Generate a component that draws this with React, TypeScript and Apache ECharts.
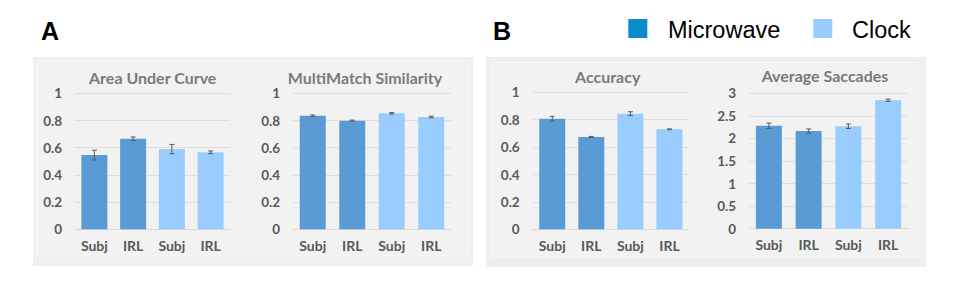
import React, { useEffect, useRef } from "react";
import * as echarts from "echarts";

const categories = ["Subj", "IRL", "Subj", "IRL"];
const groupNames = ["Microwave", "Clock"];
const groupOfBar = [0, 0, 1, 1];

const aucValues = [0.546, 0.666, 0.59, 0.566];
const aucErrors = [0.036, 0.013, 0.034, 0.01];
const mmValues = [0.835, 0.799, 0.853, 0.826];
const mmErrors = [0.006, 0.004, 0.006, 0.006];
const accValues = [0.807, 0.674, 0.844, 0.73];
const accErrors = [0.017, 0.004, 0.014, 0.003];
const sacValues = [2.28, 2.165, 2.27, 2.845];
const sacErrors = [0.06, 0.045, 0.05, 0.025];

const chartTitles = ["Area Under Curve", "MultiMatch Similarity", "Accuracy", "Average Saccades"];
const yMax = [1, 1, 1, 3];
const yInterval = [0.2, 0.2, 0.2, 0.5];

const COLORS = ["#5b9bd5", "#99ccff"];
const LEGEND_COLORS = ["#0a8bcc", "#99ccff"];

const grids = [
  { left: 75, top: 93.3, width: 155, height: 136 },
  { left: 293, top: 93.3, width: 158, height: 136 },
  { left: 532.7, top: 92.3, width: 156.3, height: 137 },
  { left: 749, top: 93.3, width: 159, height: 135.4 },
];
const titlePos = [
  [152.7, 77],
  [365, 77],
  [607.7, 76],
  [825, 75.5],
];

export default function App() {
  const ref = useRef<HTMLDivElement>(null);
  useEffect(() => {
    document.body.style.margin = "0";
    if (!ref.current) return;
    const chart = echarts.init(ref.current, null, { renderer: "svg" });
    const allValues = [aucValues, mmValues, accValues, sacValues];
    const allErrors = [aucErrors, mmErrors, accErrors, sacErrors];
    const font = "Lato, 'Open Sans', sans-serif";

    const xAxis: any[] = [];
    const yAxis: any[] = [];
    const series: any[] = [];
    grids.forEach((g, k) => {
      xAxis.push({
        type: "category",
        gridIndex: k,
        data: categories,
        axisLine: { lineStyle: { color: "#d9d9d9", width: 1 } },
        axisTick: { show: false },
        axisLabel: { color: "#595959", fontWeight: "bold", fontSize: 14, fontFamily: font, margin: 9 },
      });
      yAxis.push({
        type: "value",
        gridIndex: k,
        min: 0,
        max: yMax[k],
        interval: yInterval[k],
        axisLine: { show: false },
        axisTick: { show: false },
        splitLine: { lineStyle: { color: "#dedede", width: 1 } },
        axisLabel: { color: "#595959", fontWeight: "bold", fontSize: 13.5, fontFamily: font, margin: 13 },
      });
      groupNames.forEach((name, gi) => {
        series.push({
          type: "bar",
          name,
          xAxisIndex: k,
          yAxisIndex: k,
          barWidth: 26,
          barGap: "-100%",
          itemStyle: { color: COLORS[gi] },
          data: allValues[k].map((v, i) => (groupOfBar[i] === gi ? v : "-")),
        });
      });
      series.push({
        type: "custom",
        xAxisIndex: k,
        yAxisIndex: k,
        encode: { x: 0, y: 1 },
        data: allValues[k].map((v, i) => [i, v, allErrors[k][i]]),
        renderItem: (params: any, api: any) => {
          const x = api.value(0);
          const v = api.value(1);
          const e = api.value(2);
          const top = api.coord([x, v + e]);
          const bot = api.coord([x, v - e]);
          const hw = 2.5;
          const st = { stroke: "#5a5a5a", lineWidth: 1 };
          return {
            type: "group",
            children: [
              { type: "line", shape: { x1: top[0], y1: top[1], x2: bot[0], y2: bot[1] }, style: st },
              { type: "line", shape: { x1: top[0] - hw, y1: top[1], x2: top[0] + hw, y2: top[1] }, style: st },
              { type: "line", shape: { x1: bot[0] - hw, y1: bot[1], x2: bot[0] + hw, y2: bot[1] }, style: st },
            ],
          };
        },
        z: 5,
      });
    });

    const graphic: any[] = [
      { type: "rect", shape: { x: 33, y: 57, width: 440, height: 209 }, style: { fill: "#efefef" }, z: -10 },
      { type: "rect", shape: { x: 37, y: 61, width: 432, height: 195 }, style: { fill: "#f2f2f2", stroke: "#f9f9f9", lineWidth: 1 }, z: -9 },
      { type: "rect", shape: { x: 486, y: 57, width: 440, height: 210 }, style: { fill: "#efefef" }, z: -10 },
      { type: "rect", shape: { x: 492, y: 62, width: 426, height: 195 }, style: { fill: "#f2f2f2", stroke: "#f9f9f9", lineWidth: 1 }, z: -9 },
      { type: "text", x: 41, y: 31, style: { text: "A", fontSize: 25, fontWeight: "bold", fill: "#000", fontFamily: "'Liberation Sans', Arial, sans-serif", verticalAlign: "middle" } },
      { type: "text", x: 493, y: 31, style: { text: "B", fontSize: 25, fontWeight: "bold", fill: "#000", fontFamily: "'Liberation Sans', Arial, sans-serif", verticalAlign: "middle" } },
      { type: "rect", shape: { x: 628.3, y: 19, width: 19, height: 19 }, style: { fill: LEGEND_COLORS[0] } },
      { type: "text", x: 668, y: 29.5, style: { text: groupNames[0], fontSize: 23.5, fill: "#000", fontFamily: "'Liberation Sans', Arial, sans-serif", verticalAlign: "middle" } },
      { type: "rect", shape: { x: 813.3, y: 19, width: 19, height: 19 }, style: { fill: LEGEND_COLORS[1] } },
      { type: "text", x: 852, y: 29.5, style: { text: groupNames[1], fontSize: 23.5, fill: "#000", fontFamily: "'Liberation Sans', Arial, sans-serif", verticalAlign: "middle" } },
    ];
    chartTitles.forEach((t, k) => {
      graphic.push({
        type: "text",
        x: titlePos[k][0],
        y: titlePos[k][1],
        style: { text: t, fontSize: 16, fontWeight: "bold", fill: "#7a7a7a", fontFamily: font, align: "center", verticalAlign: "middle" },
      });
    });

    chart.setOption({
      animation: false,
      backgroundColor: "#ffffff",
      grid: grids.map((g) => ({ ...g, containLabel: false })),
      xAxis,
      yAxis,
      series,
      graphic,
    });
    return () => chart.dispose();
  }, []);
  return <div ref={ref} style={{ width: 959, height: 302 }} />;
}
